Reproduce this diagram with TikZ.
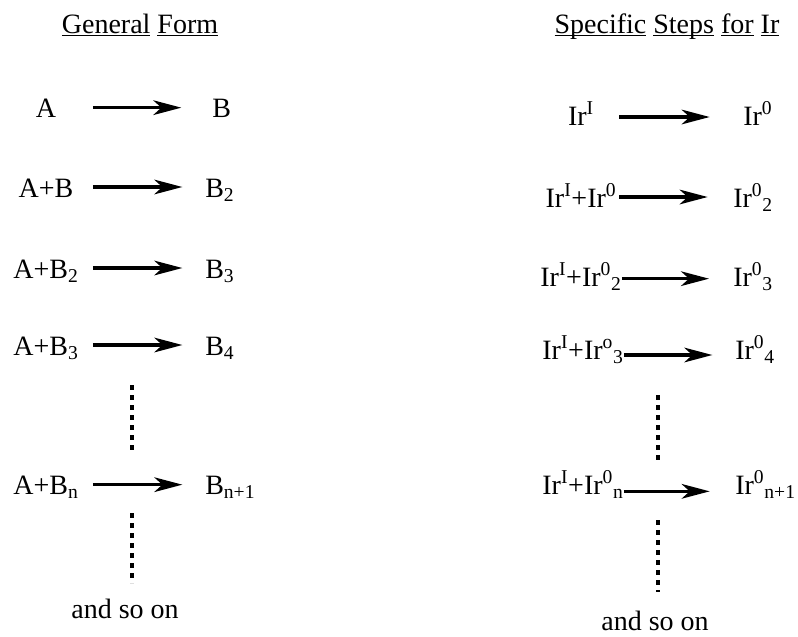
\documentclass[tikz,border=0pt]{standalone}
\usepackage{fontspec}
\setmainfont{Liberation Serif}
\usetikzlibrary{arrows.meta}

\newcommand\ulword[1]{\underline{\smash{#1}}}

\tikzset{
  rxn/.style={-{Stealth[length=21pt,width=11pt,inset=6pt]}, line width=2.3pt, shorten >=17pt},
  lhsl/.style={anchor=base, inner sep=0pt, minimum width=70pt},
  lhsr/.style={anchor=base, inner sep=0pt, minimum width=57pt},
  rhs/.style={anchor=base west, inner sep=0pt},
  dots/.style={line width=2.4pt, dash pattern=on 3.5pt off 4pt}
}

\begin{document}
\begin{tikzpicture}[x=0.75pt, y=-0.75pt, font=\fontsize{21}{25}\selectfont]
  \useasboundingbox (0,0) rectangle (798,636);

  % titles
  \node[anchor=base] (gentitle) at (140,33) {\ulword{General} \ulword{Form}};
  \node[anchor=base] (irtitle) at (667,33) {\ulword{Specific} \ulword{Steps} \ulword{for} \ulword{Ir}};

  % general form
  \node[lhsl] (a1) at (46,117) {A};
  \node[rhs] (b1) at (212,117) {B};
  \node[lhsl] (a2) at (46,197) {A+B};
  \node[rhs] (b2) at (205,197) {B\textsubscript{2}};
  \node[lhsl] (a3) at (46,278) {A+B\textsubscript{2}};
  \node[rhs] (b3) at (205,278) {B\textsubscript{3}};
  \node[lhsl] (a4) at (46,355) {A+B\textsubscript{3}};
  \node[rhs] (b4) at (205,355) {B\textsubscript{4}};
  \node[lhsl] (an) at (46,494) {A+B\textsubscript{n}};
  \node[rhs] (bn) at (205,494) {B\textsubscript{n+1}};
  \node[anchor=base] (genend) at (125,618) {and so on};

  \draw[rxn, shorten >=23pt] ([yshift=7pt]a1.base east) -- ([yshift=7pt]b1.base west);
  \draw[rxn] ([yshift=7.5pt]a2.base east) -- ([yshift=7.5pt]b2.base west);
  \draw[rxn] ([yshift=7.5pt]a3.base east) -- ([yshift=7.5pt]b3.base west);
  \draw[rxn] ([yshift=7.5pt]a4.base east) -- ([yshift=7.5pt]b4.base west);
  \draw[rxn] ([yshift=7pt]an.base east) -- ([yshift=7pt]bn.base west);

  \coordinate (gd1) at (132,385);
  \coordinate (gd2) at (132,453);
  \coordinate (gd3) at (132,513);
  \coordinate (gd4) at (132,583);
  \draw[dots] (gd1) -- (gd2);
  \draw[dots] (gd3) -- (gd4);

  % specific steps for Ir
  \node[lhsr] (ir1) at (581,125) {Ir\textsuperscript{I}};
  \node[rhs] (irz1) at (743,125) {Ir\textsuperscript{0}};
  \node[lhsr] (ir2) at (581,207) {Ir\textsuperscript{I}+Ir\textsuperscript{0}};
  \node[rhs] (irz2) at (733,207) {Ir\textsuperscript{0}\textsubscript{2}};
  \node[lhsr] (ir3) at (581,286) {Ir\textsuperscript{I}+Ir\textsuperscript{0}\textsubscript{2}};
  \node[rhs] (irz3) at (733,286) {Ir\textsuperscript{0}\textsubscript{3}};
  \node[lhsr] (ir4) at (583,359) {Ir\textsuperscript{I}+Ir\textsuperscript{o}\textsubscript{3}};
  \node[rhs] (irz4) at (735,359) {Ir\textsuperscript{0}\textsubscript{4}};
  \node[lhsr] (irn) at (583,494) {Ir\textsuperscript{I}+Ir\textsuperscript{0}\textsubscript{n}};
  \node[rhs] (irzn) at (735,494) {Ir\textsuperscript{0}\textsubscript{n+1}};
  \node[anchor=base] (irend) at (655,630) {and so on};

  \draw[rxn, shorten >=25pt] ([yshift=6pt]ir1.base east) -- ([yshift=6pt]irz1.base west);
  \draw[rxn, shorten >=19pt] ([yshift=7.5pt]ir2.base east) -- ([yshift=7.5pt]irz2.base west);
  \draw[rxn, shorten >=18pt] ([yshift=5.5pt]ir3.base east) -- ([yshift=5.5pt]irz3.base west);
  \draw[rxn, shorten >=17pt] ([yshift=3pt]ir4.base east) -- ([yshift=3pt]irz4.base west);
  \draw[rxn, shorten >=19pt] ([yshift=2pt]irn.base east) -- ([yshift=2pt]irzn.base west);

  \coordinate (sd1) at (658,395);
  \coordinate (sd2) at (658,462);
  \coordinate (sd3) at (658,520);
  \coordinate (sd4) at (658,592);
  \draw[dots] (sd1) -- (sd2);
  \draw[dots] (sd3) -- (sd4);
\end{tikzpicture}
\end{document}
